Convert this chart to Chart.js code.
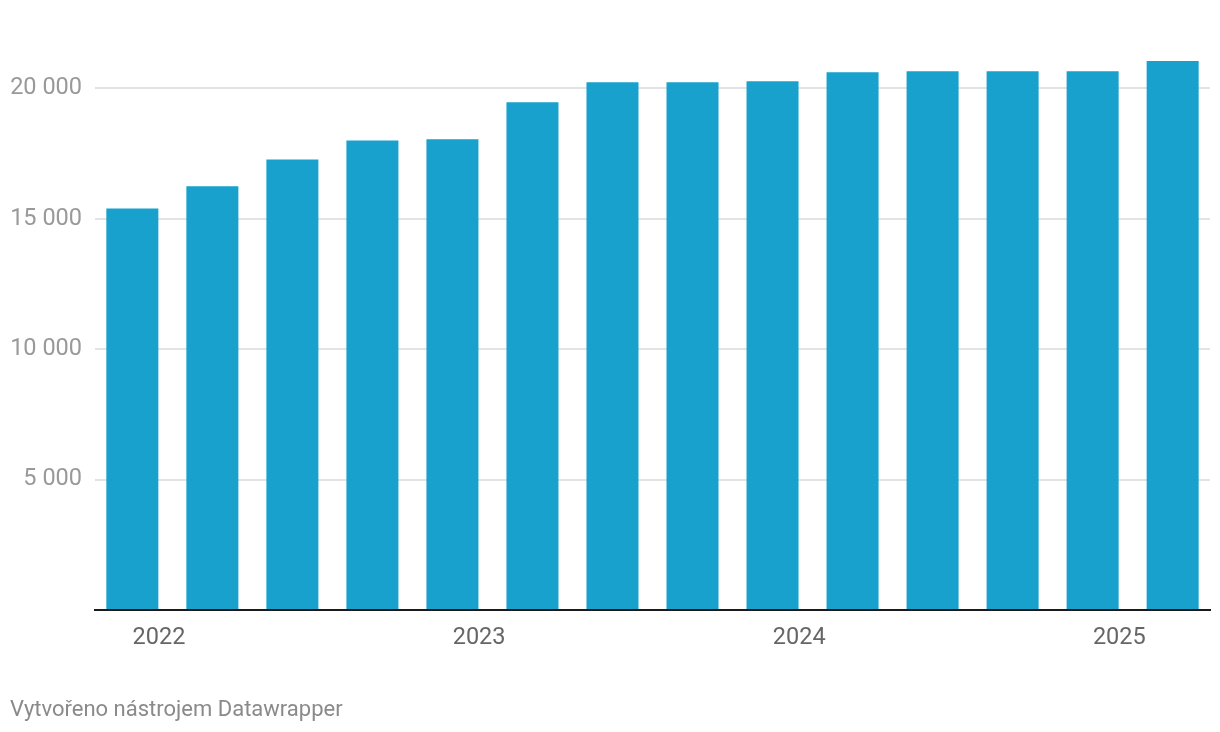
<!DOCTYPE html>
<html>
<head>
<meta charset="utf-8">
<script src="https://cdn.jsdelivr.net/npm/chart.js@4"></script>
<style>
  html, body { margin: 0; padding: 0; background: #fff; }
  #wrap { width: 1220px; height: 732px; }
</style>
</head>
<body>
<div id="wrap"><canvas id="graf"></canvas></div>
<script>
// ctvrtletni hodnoty
const quarters = ['2021-12', '2022-03', '2022-06', '2022-09', '2022-12', '2023-03', '2023-06',
                  '2023-09', '2023-12', '2024-03', '2024-06', '2024-09', '2024-12', '2025-03'];
const values = [15390, 16240, 17270, 18000, 18040, 19460, 20230,
                20230, 20270, 20610, 20650, 20650, 20650, 21040];
const yearLabels = ['2022', '2023', '2024', '2025'];
const valueTicks = [0, 5000, 10000, 15000, 20000];

// mesice od prosince 2021
const monthIndex = s => {
    const [y, m] = s.split('-').map(Number);
    return (y - 2021) * 12 + (m - 12);
};
const yearTicks = yearLabels.map(y => monthIndex(y + '-01'));

const fmt = v => String(v).replace(/\B(?=(\d{3})+(?!\d))/g, ' ');

const ctx = document.getElementById('graf');

const chart = new Chart(ctx, {
    type: 'bar',
    data: {
        datasets: [{
            data: quarters.map((q, i) => ({ x: monthIndex(q), y: values[i] })),
            backgroundColor: '#18a1cd',
            barPercentage: 1,
            categoryPercentage: 0.65
        }]
    },
    options: {
        responsive: true,
        maintainAspectRatio: false,
        animation: false,
        layout: {
            padding: { left: 10, right: 10, top: 36, bottom: 0 }
        },
        plugins: {
            legend: { display: false },
            tooltip: { enabled: false },
            title: {
                display: true,
                text: 'Vytvořeno nástrojem Datawrapper',
                position: 'bottom',
                align: 'start',
                color: '#8a8a8a',
                font: { family: 'Roboto', size: 22, weight: 'normal' },
                padding: { top: 31, bottom: 8 }
            }
        },
        scales: {
            x: {
                type: 'linear',
                min: -1.4,
                max: 40.4,
                offset: false,
                grid: { display: false, offset: false, drawTicks: false },
                border: { display: true, color: '#1a1a1a', width: 2 },
                afterBuildTicks: axis => {
                    axis.ticks = yearTicks.map(v => ({ value: v }));
                },
                afterFit: axis => { axis.height = 56.5; },
                ticks: {
                    autoSkip: false,
                    maxRotation: 0,
                    padding: 14,
                    color: '#666',
                    font: { family: 'Roboto', size: 23.5 },
                    callback: (v, i) => yearLabels[i]
                }
            },
            y: {
                min: 0,
                max: 22000,
                grid: {
                    drawTicks: false,
                    color: ctx => ctx.tick.value === 0 ? 'rgba(0,0,0,0)' : '#e3e3e3',
                    lineWidth: 2
                },
                border: { display: false },
                afterBuildTicks: axis => {
                    axis.ticks = valueTicks.map(v => ({ value: v }));
                },
                afterFit: axis => { axis.width = 85; },
                ticks: {
                    padding: 13,
                    color: '#999',
                    font: { family: 'Roboto', size: 23.5 },
                    callback: v => v === 0 ? '' : fmt(v)
                }
            }
        }
    }
});
</script>
</body>
</html>
